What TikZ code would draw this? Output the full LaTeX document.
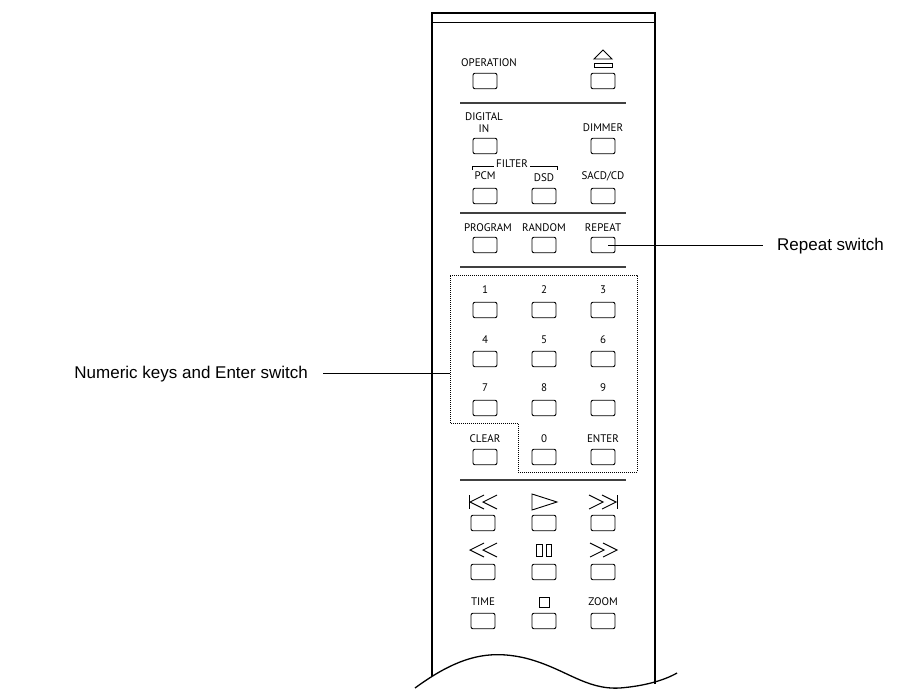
\documentclass[tikz,border=0pt]{standalone}
\usepackage{fontspec}
\setmainfont{Liberation Sans}
\newfontfamily\keyfont{PT Sans}
\begin{document}
\begin{tikzpicture}[x=1pt,y=-1pt,
  btn/.style={draw,line width=0.9pt,rounded corners=2pt,minimum width=24pt,minimum height=15.5pt,inner sep=0pt},
  klbl/.style={font=\keyfont\fontsize{11}{11}\selectfont,inner sep=0pt},
  bigl/.style={font=\fontsize{17}{18}\selectfont,inner sep=0pt},
  sym/.style={line width=0.9pt},
  sep/.style={line width=1.1pt,draw=black!75}]
\useasboundingbox (0,0) rectangle (921,695);
% body
\draw[line width=1.4pt] (432,676) -- (432,13) -- (655,13) -- (655,684);
\draw[line width=1pt] (432,23) -- (655,23);
\draw[line width=1.3pt] (415,688) .. controls (460,655) and (490,650) .. (525,658)
  .. controls (565,668) and (585,690) .. (620,688) .. controls (645,686) and (665,680) .. (677,673);
% separators
\foreach \y in {103,213,267,480} \draw[sep] (460,\y) -- (626,\y);
% row 1
\node[klbl] (lop) at (489,63) {OPERATION};
\node[btn] (bop) at (485,81) {};
\node[btn] (bej) at (603,81) {};
\draw[sym] (594,63) -- (612,63) -- (612,67) -- (594,67) -- cycle;
\draw[sym] (594,59) -- (603,50) -- (612,59) -- cycle;
% row 2
\node[klbl] (ldig) at (484,117) {DIGITAL};
\node[klbl] (lin) at (484,129) {IN};
\node[klbl] (ldim) at (603,128) {DIMMER};
\node[btn] (bdig) at (485,146) {};
\node[btn] (bdim) at (603,146) {};
% filter
\node[klbl] (lfil) at (512,164) {FILTER};
\draw[line width=0.7pt] (472,170) -- (472,166) -- ([xshift=-2pt]lfil.west|-0,166);
\draw[line width=0.7pt] (557,170) -- (557,166) -- ([xshift=2pt]lfil.east|-0,166);
\node[klbl] (lpcm) at (485,176) {PCM};
\node[klbl] (ldsd) at (544,178) {DSD};
\node[klbl] (lsac) at (603,176) {SACD/CD};
\node[btn] (bpcm) at (485,196) {};
\node[btn] (bdsd) at (544,196) {};
\node[btn] (bsac) at (603,196) {};
% row program
\node[klbl] (lpro) at (488,228) {PROGRAM};
\node[klbl] (lran) at (544,228) {RANDOM};
\node[klbl] (lrep) at (603,228) {REPEAT};
\node[btn] (bpro) at (485,245) {};
\node[btn] (bran) at (544,245) {};
\node[btn] (brep) at (603,245) {};
% numeric
\draw[dash pattern=on 1pt off 1pt,line width=0.7pt] (450,275) -- (637,275) -- (637,472) -- (518,472) -- (518,423) -- (450,423) -- cycle;
\foreach \t/\n/\x/\ly/\by in {1/b1/485/290/310,2/b2/544/290/310,3/b3/603/290/310,
  4/b4/485/340/359,5/b5/544/340/359,6/b6/603/340/359,
  7/b7/485/388/408,8/b8/544/388/408,9/b9/603/388/408,
  CLEAR/bcl/485/439/457,0/b0/544/439/457,ENTER/ben/603/439/457}{
  \node[klbl] (l\n) at (\x,\ly) {\t};
  \node[btn] (\n) at (\x,\by) {};
}
% transport
\node[btn] (bprev) at (483,523) {};
\node[btn] (bplay) at (544,523) {};
\node[btn] (bnext) at (603,523) {};
\node[btn] (brew) at (483,572) {};
\node[btn] (bpau) at (544,572) {};
\node[btn] (bff) at (603,572) {};
\node[btn] (btim) at (483,621) {};
\node[btn] (bstp) at (544,621) {};
\node[btn] (bzom) at (603,621) {};
\draw[sym] (469,495) -- (469,509);
\draw[sym] (484,495) -- (470,502) -- (484,509);
\draw[sym] (497,495) -- (483,502) -- (497,509);
\draw[sym] (532,494) -- (557,502) -- (532,510) -- cycle;
\draw[sym] (617,495) -- (617,509);
\draw[sym] (602,495) -- (616,502) -- (602,509);
\draw[sym] (589,495) -- (603,502) -- (589,509);
\draw[sym] (484,543) -- (470,550) -- (484,557);
\draw[sym] (497,543) -- (483,550) -- (497,557);
\draw[sym] (603,543) -- (617,550) -- (603,557);
\draw[sym] (590,543) -- (604,550) -- (590,557);
\draw[sym] (536.5,544) rectangle (542,556);
\draw[sym] (546,544) rectangle (551.5,556);
\draw[sym] (539,597) rectangle (549,607);
\node[klbl] (ltim) at (483,602) {TIME};
\node[klbl] (lzom) at (603,602) {ZOOM};
% labels and leaders
\node[bigl,anchor=west] (trep) at (777,246) {Repeat switch};
\coordinate (crep) at (763,245);
\draw[line width=0.8pt] ([xshift=5pt]brep.center) -- (crep);
\node[bigl,anchor=east] (tnum) at (308,374) {Numeric keys and Enter switch};
\coordinate (cnum) at (450,373);
\draw[line width=0.8pt] ([xshift=15pt]tnum.east|-cnum) -- (cnum);
\end{tikzpicture}
\end{document}
